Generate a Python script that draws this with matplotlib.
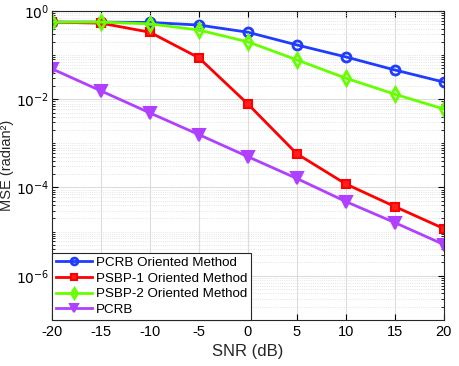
import numpy as np
import matplotlib.pyplot as plt
from matplotlib.ticker import LogLocator, NullFormatter, FixedLocator

plt.rcParams['font.family'] = ['Liberation Sans', 'DejaVu Sans']
plt.rcParams['axes.unicode_minus'] = False

snr = [-20, -15, -10, -5, 0, 5, 10, 15, 20]
mse_pcrb_method = [0.56, 0.56, 0.55, 0.48, 0.33, 0.17, 0.091, 0.046, 0.0245]
mse_psbp1 = [0.56, 0.53, 0.33, 0.087, 0.0078, 5.8e-4, 1.2e-4, 3.7e-5, 1.17e-5]
mse_psbp2 = [0.56, 0.56, 0.51, 0.37, 0.20, 0.078, 0.030, 0.013, 0.006]
pcrb = [0.049, 0.0155, 0.0049, 1.58e-3, 5e-4, 1.6e-4, 4.8e-5, 1.6e-5, 5.1e-6]

fig = plt.figure(figsize=(4.59, 3.66), dpi=100)
ax = fig.add_axes([0.113, 0.126, 0.854, 0.844])

ax.semilogy(snr, mse_pcrb_method, '-o', color='#1f3cff', lw=2, ms=6.5,
            mfc='none', mew=2, label='PCRB Oriented Method')
ax.semilogy(snr, mse_psbp1, '-s', color='#ff0000', lw=2, ms=6,
            mfc='#ff2020', mew=1.5, label='PSBP-1 Oriented Method')
ax.semilogy(snr, mse_psbp2, '-d', color='#66ff00', lw=2, ms=7,
            mfc='none', mew=2, label='PSBP-2 Oriented Method')
ax.semilogy(snr, pcrb, '-v', color='#b040ff', lw=2, ms=8,
            mfc='#b040ff', mew=1.5, label='PCRB')

ax.set_xlim(-20, 20)
ax.set_ylim(1e-7, 1)
ax.set_xticks(snr)
ax.yaxis.set_major_locator(FixedLocator([1e-6, 1e-4, 1e-2, 1e0]))
ax.yaxis.set_minor_locator(LogLocator(base=10, subs=np.arange(1, 10), numticks=30))
ax.yaxis.set_minor_formatter(NullFormatter())
ax.set_yticklabels(['$10^{-6}$', '$10^{-4}$', '$10^{-2}$', '$10^{0}$'])

ax.grid(True, which='major', color='#dcdcdc', lw=0.8)
ax.grid(True, which='minor', axis='y', color='#dcdcdc', lw=0.6, ls=':')
ax.set_axisbelow(True)
ax.tick_params(which='both', direction='in', top=True, right=True, labelsize=10.5)
ax.tick_params(axis='y', pad=2, labelsize=10)
ax.tick_params(which='major', length=4)
ax.tick_params(which='minor', length=2)
for s in ax.spines.values():
    s.set_color('#262626')
    s.set_linewidth(0.8)

ax.set_xlabel('SNR (dB)', fontsize=12, color='#262626')
ax.set_ylabel('MSE (radian²)', fontsize=10.5, color='#262626')
ax.yaxis.set_label_coords(-0.096, 0.5)

leg = ax.legend(loc='lower left', fontsize=9.6, borderaxespad=0, fancybox=False,
                framealpha=1, edgecolor='#262626', handlelength=2.7,
                handletextpad=0.3, labelspacing=0.25, borderpad=0.3, markerscale=0.75)
leg.get_frame().set_linewidth(0.8)

fig.savefig('out.png', dpi=100)
